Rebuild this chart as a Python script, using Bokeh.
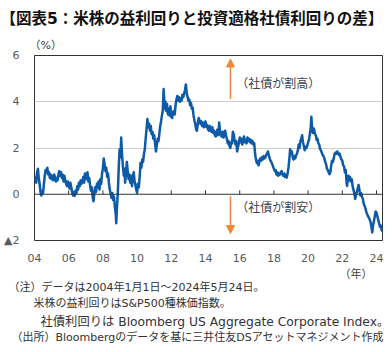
from bokeh.plotting import figure
from bokeh.models import (Range1d, FixedTicker, Span, Label, Arrow, NormalHead, Title)
from bokeh.embed import file_html
from bokeh.resources import INLINE

# ---------------- data ----------------
years = [
 2004.00,2004.05,2004.10,2004.15,2004.20,2004.25,2004.30,2004.35,2004.40,2004.45,
 2004.50,2004.55,2004.60,2004.65,2004.70,2004.75,2004.80,2004.85,2004.90,2004.95,
 2005.00,2005.05,2005.10,2005.15,2005.20,2005.25,2005.30,2005.35,2005.40,2005.45,
 2005.50,2005.55,2005.60,2005.65,2005.70,2005.75,2005.80,2005.85,2005.90,2005.95,
 2006.00,2006.05,2006.10,2006.15,2006.20,2006.25,2006.30,2006.35,2006.40,2006.45,
 2006.50,2006.55,2006.60,2006.65,2006.70,2006.75,2006.80,2006.85,2006.90,2006.95,
 2007.00,2007.05,2007.10,2007.15,2007.20,2007.25,2007.30,2007.35,2007.40,2007.45,
 2007.50,2007.55,2007.60,2007.65,2007.70,2007.75,2007.80,2007.85,2007.90,2007.95,
 2008.00,2008.05,2008.10,2008.15,2008.20,2008.25,2008.30,2008.35,2008.40,2008.45,
 2008.50,2008.55,2008.60,2008.65,2008.70,2008.75,2008.78,2008.82,2008.86,2008.90,
 2008.94,2008.98,2009.03,2009.07,2009.12,2009.17,2009.22,2009.27,2009.30,2009.35,
 2009.40,2009.45,2009.50,2009.55,2009.60,2009.65,2009.70,2009.75,2009.80,2009.85,
 2009.90,2009.95,2010.00,2010.05,2010.10,2010.15,2010.20,2010.25,2010.30,2010.35,
 2010.40,2010.45,2010.50,2010.55,2010.60,2010.65,2010.70,2010.75,2010.80,2010.85,
 2010.90,2010.95,2011.00,2011.05,2011.10,2011.15,2011.20,2011.25,2011.30,2011.35,
 2011.40,2011.45,2011.50,2011.55,2011.58,2011.62,2011.66,2011.70,2011.75,2011.80,
 2011.85,2011.90,2011.95,2012.00,2012.05,2012.10,2012.15,2012.20,2012.25,2012.30,
 2012.35,2012.40,2012.45,2012.50,2012.55,2012.60,2012.65,2012.70,2012.75,2012.80,
 2012.85,2012.90,2012.95,2013.00,2013.05,2013.10,2013.15,2013.20,2013.25,2013.30,
 2013.35,2013.40,2013.45,2013.50,2013.55,2013.60,2013.65,2013.70,2013.75,2013.80,
 2013.85,2013.90,2013.95,2014.00,2014.05,2014.10,2014.15,2014.20,2014.25,2014.30,
 2014.35,2014.40,2014.45,2014.50,2014.55,2014.60,2014.65,2014.70,2014.75,2014.80,
 2014.85,2014.90,2014.95,2015.00,2015.05,2015.10,2015.15,2015.20,2015.25,2015.30,
 2015.35,2015.40,2015.45,2015.50,2015.55,2015.60,2015.65,2015.70,2015.75,2015.80,
 2015.85,2015.90,2015.95,2016.00,2016.05,2016.10,2016.15,2016.20,2016.25,2016.30,
 2016.35,2016.40,2016.45,2016.50,2016.55,2016.60,2016.65,2016.70,2016.75,2016.80,
 2016.85,2016.90,2016.95,2017.00,2017.05,2017.10,2017.15,2017.20,2017.25,2017.30,
 2017.35,2017.40,2017.45,2017.50,2017.55,2017.60,2017.65,2017.70,2017.75,2017.80,
 2017.85,2017.90,2017.95,2018.00,2018.05,2018.10,2018.15,2018.20,2018.25,2018.30,
 2018.35,2018.40,2018.45,2018.50,2018.55,2018.60,2018.65,2018.70,2018.75,2018.80,
 2018.85,2018.90,2018.95,2019.00,2019.05,2019.10,2019.15,2019.20,2019.25,2019.30,
 2019.35,2019.40,2019.45,2019.50,2019.55,2019.60,2019.65,2019.70,2019.75,2019.80,
 2019.85,2019.90,2019.95,2020.00,2020.05,2020.10,2020.15,2020.19,2020.23,2020.27,
 2020.31,2020.35,2020.40,2020.45,2020.50,2020.55,2020.60,2020.65,2020.70,2020.75,
 2020.80,2020.85,2020.90,2020.95,2021.00,2021.05,2021.10,2021.15,2021.20,2021.25,
 2021.30,2021.35,2021.40,2021.45,2021.50,2021.55,2021.60,2021.65,2021.70,2021.75,
 2021.80,2021.85,2021.90,2021.95,2022.00,2022.05,2022.10,2022.15,2022.20,2022.25,
 2022.28,2022.32,2022.36,2022.40,2022.45,2022.50,2022.55,2022.60,2022.65,2022.70,
 2022.75,2022.80,2022.85,2022.90,2022.95,2023.00,2023.05,2023.10,2023.15,2023.20,
 2023.25,2023.30,2023.35,2023.40,2023.45,2023.50,2023.55,2023.60,2023.65,2023.70,
 2023.75,2023.80,2023.85,2023.90,2023.95,2024.00,2024.05,2024.10,2024.15,2024.20,
 2024.25,2024.30,2024.35,2024.38,
]
spread = [
 0.55,0.75,0.50,0.95,1.10,0.70,0.45,0.10,-0.05,0.15,
 0.05,0.45,0.80,1.05,0.95,1.15,0.85,0.95,0.70,0.85,
 0.65,0.80,0.60,0.85,0.75,0.55,0.70,0.60,0.85,1.00,
 0.80,0.95,0.70,0.85,0.55,0.80,0.60,0.45,0.35,0.55,
 0.40,0.25,0.50,0.30,0.10,-0.05,0.10,-0.07,0.15,0.05,
 0.35,0.20,0.50,0.35,0.60,0.45,0.55,0.75,0.50,0.90,
 0.65,0.80,0.95,0.55,0.70,0.40,0.15,0.30,-0.10,-0.30,
 0.05,0.30,0.10,0.45,0.30,0.55,0.20,0.65,0.45,0.90,
 1.10,1.55,1.30,1.00,1.15,0.75,0.90,0.50,0.20,0.05,
 -0.15,0.05,-0.25,-0.10,-0.55,-0.85,-1.25,-0.60,-0.10,0.60,
 1.40,1.95,1.60,2.45,1.70,1.20,0.80,1.10,0.50,0.90,
 1.40,1.00,0.65,0.85,0.50,0.80,0.35,0.70,0.95,0.60,
 0.40,0.20,0.07,0.45,0.30,0.75,1.35,1.15,1.50,1.40,
 1.75,1.95,2.40,2.80,3.25,2.90,3.05,2.75,2.95,2.60,
 2.70,2.40,2.55,2.20,1.85,2.10,2.40,2.30,2.60,2.95,
 3.15,3.40,3.60,4.55,4.20,3.70,4.00,3.60,3.90,3.45,
 3.70,3.40,3.80,3.35,3.30,3.55,3.60,3.45,3.85,4.10,
 4.25,4.05,4.20,4.00,4.15,4.05,4.30,4.20,4.35,4.50,
 4.75,4.40,4.20,4.05,4.10,3.85,3.95,3.70,3.75,3.40,
 3.20,3.05,2.80,2.75,3.05,3.30,3.20,3.05,3.15,2.95,
 3.10,2.90,3.05,3.15,2.90,3.00,2.80,2.75,2.95,2.80,
 2.70,2.90,2.65,2.75,2.55,2.50,2.70,2.80,2.55,3.10,
 2.70,2.55,2.50,2.70,2.45,2.60,2.75,2.55,2.40,2.20,
 2.30,2.10,2.00,2.25,2.20,2.70,2.60,2.35,2.15,2.30,
 1.85,2.05,2.20,2.45,2.25,2.40,2.15,2.30,2.50,2.25,
 2.35,2.20,2.45,2.30,2.40,2.25,2.35,2.20,2.30,2.15,
 2.20,1.75,1.50,1.35,1.45,1.25,1.40,1.55,1.45,1.60,
 1.50,1.65,1.55,1.60,1.70,1.75,1.85,1.70,1.55,1.45,
 1.40,1.30,1.20,1.10,1.00,1.05,0.85,0.95,0.80,0.90,
 0.85,0.95,1.00,0.85,0.80,0.90,0.75,0.85,0.72,0.90,
 1.15,1.50,1.95,1.75,1.85,1.60,1.50,1.65,1.55,1.70,
 1.75,1.90,2.15,2.00,2.30,2.40,2.55,2.25,2.10,1.90,
 2.05,2.00,2.10,2.25,2.35,2.60,2.85,3.35,2.90,2.65,
 2.85,2.80,2.60,2.55,2.35,2.40,2.20,2.15,1.95,1.90,
 1.80,1.70,1.65,1.55,1.40,1.30,1.10,1.05,0.95,0.87,
 0.95,1.25,1.45,1.40,1.55,1.75,1.80,1.75,1.85,1.80,
 1.70,1.75,1.60,1.50,1.45,1.25,1.20,0.95,1.05,0.50,
 0.36,0.65,0.80,0.60,0.75,0.55,0.65,0.35,0.20,0.05,
 -0.20,-0.05,0.10,0.25,0.40,0.20,-0.05,0.05,-0.10,-0.20,
 -0.40,-0.50,-0.60,-0.75,-0.85,-0.95,-1.00,-1.10,-1.20,-1.40,
 -1.65,-1.35,-1.15,-0.95,-0.75,-0.80,-0.95,-1.10,-1.25,-1.40,
 -1.35,-1.55,-1.60,-1.50,
]
x_ticks = [2004, 2006, 2008, 2010, 2012, 2014, 2016, 2018, 2020, 2022, 2024]
x_tick_labels = ["04", "06", "08", "10", "12", "14", "16", "18", "20", "22", "24"]
y_ticks = [-2, 0, 2, 4, 6]
y_tick_labels = ["▲2", "0", "2", "4", "6"]

title_text = "【図表5：米株の益利回りと投資適格社債利回りの差】"
notes = [
    "（注）データは2004年1月1日～2024年5月24日。",
    "米株の益利回りはS&P500種株価指数。",
    "社債利回りは Bloomberg US Aggregate Corporate Index。",
    "（出所）Bloombergのデータを基に三井住友DSアセットマネジメント作成",
]

# ---------------- layout ----------------
W, H = 392, 352
X0, X1 = 2004.0, 2024.35
Y0, Y1 = -2.0, 6.0
FONT = "DejaVu Sans, Noto Sans CJK JP"
CJK = "Noto Sans CJK JP"

p = figure(width=W, height=H, output_backend="svg", toolbar_location=None,
           x_range=Range1d(X0, X1), y_range=Range1d(Y0, Y1), title=None,
           min_border=0, min_border_left=34, min_border_right=10)
p.background_fill_color = "white"
p.border_fill_color = "white"
p.outline_line_color = "#333333"
p.outline_line_width = 1

p.xgrid.visible = False
p.ygrid.ticker = FixedTicker(ticks=[2, 4])
p.ygrid.grid_line_color = "#cccccc"
p.ygrid.grid_line_width = 1

for ax in (p.xaxis[0], p.yaxis[0]):
    ax.axis_line_color = None
    ax.major_tick_line_color = None
    ax.minor_tick_line_color = None
    ax.major_label_text_font = FONT
    ax.major_label_text_font_size = "11px"
    ax.major_label_text_color = "#595959"

p.xaxis.ticker = FixedTicker(ticks=x_ticks)
p.xaxis.major_label_overrides = {t: l for t, l in zip(x_ticks, x_tick_labels)}
p.xaxis.major_label_standoff = 7
p.yaxis.ticker = FixedTicker(ticks=y_ticks)
p.yaxis.major_label_overrides = {t: l for t, l in zip(y_ticks, y_tick_labels)}
p.yaxis.major_label_standoff = 9

# zero line + upward ticks
p.add_layout(Span(location=0, dimension="width", line_color="#333333", line_width=1))
p.segment(x0=x_ticks, y0=[0] * len(x_ticks), x1=x_ticks, y1=[0.17] * len(x_ticks),
          line_color="#333333", line_width=1)

# series
p.line(years, spread, line_color="#0d5aa8", line_width=2.5, line_join="round")

# arrows / in-plot notes
orange = "#f0883a"
ARROW_X = 2015.46
p.add_layout(Arrow(end=NormalHead(size=8, fill_color=orange, line_color=orange),
                   x_start=ARROW_X, y_start=4.12, x_end=ARROW_X, y_end=5.85,
                   line_color=orange, line_width=1.5))
p.add_layout(Arrow(end=NormalHead(size=8, fill_color=orange, line_color=orange),
                   x_start=ARROW_X, y_start=-0.09, x_end=ARROW_X, y_end=-1.70,
                   line_color=orange, line_width=1.5))
for txt, yv in (("（社債が割高）", 4.82), ("（社債が割安）", -0.52)):
    p.add_layout(Label(x=2015.8, y=yv, text=txt, text_font=CJK, text_font_size="12px",
                       text_color="#3a4250", text_baseline="middle"))

# titles / notes in side panels
def side_text(txt, side, size="11px", style="normal", color="#333333",
              align="left", offset=0, standoff=0):
    p.add_layout(Title(text=txt, align=align, offset=offset, standoff=standoff,
                       text_font=FONT, text_font_size=size, text_font_style=style,
                       text_color=color), side)

side_text("（%）", "above", color="#404040", offset=-5, standoff=8)
side_text(title_text, "above", size="15.5px", style="bold", color="#111111",
          offset=-34, standoff=9)
side_text(" ", "above", size="1px")
side_text("（年）", "below", color="#404040", align="right", offset=10, standoff=2)
side_text(notes[0], "below", offset=-26, standoff=-5)
side_text(notes[1], "below", offset=-1, standoff=7)
side_text(notes[2], "below", size="12.3px", offset=6, standoff=-1)
side_text(notes[3], "below", offset=-23, standoff=0)
side_text(" ", "below", size="6px")

open("out.html", "w").write(file_html(p, INLINE))
